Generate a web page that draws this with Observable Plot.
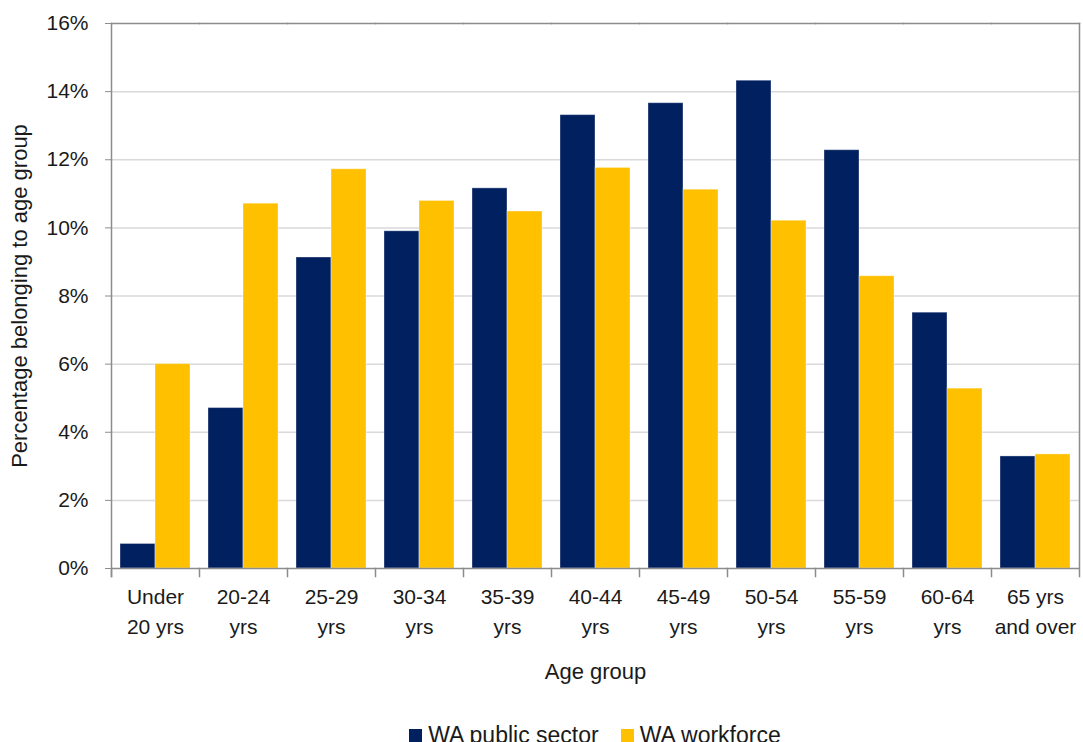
<!DOCTYPE html>
<html>
<head>
<meta charset="utf-8">
<script src="https://cdn.jsdelivr.net/npm/d3@7"></script>
<script src="https://cdn.jsdelivr.net/npm/@observablehq/plot@0.6"></script>
<style>
  html, body { margin: 0; padding: 0; background: #fff; }
  body { width: 1083px; height: 742px; overflow: hidden; font-family: "Liberation Sans", Arial, sans-serif; }
  #legend { display: flex; justify-content: center; align-items: center; gap: 22px;
            padding-left: 109px; padding-right: 2px; margin-top: 11px;
            font-size: 23px; color: #1a1a1a; line-height: 28px; }
  #legend .item { display: flex; align-items: center; gap: 6px; }
  #legend .sw { width: 13px; height: 13px; display: inline-block; }
</style>
</head>
<body>
<div id="chart"></div>
<div id="legend"></div>
<script>
const categories = ["Under 20 yrs", "20-24 yrs", "25-29 yrs", "30-34 yrs", "35-39 yrs", "40-44 yrs", "45-49 yrs", "50-54 yrs", "55-59 yrs", "60-64 yrs", "65 yrs and over"];
const tickLabels = ["Under\n20 yrs", "20-24\nyrs", "25-29\nyrs", "30-34\nyrs", "35-39\nyrs", "40-44\nyrs", "45-49\nyrs", "50-54\nyrs", "55-59\nyrs", "60-64\nyrs", "65 yrs\nand over"];
const seriesNames = ["WA public sector", "WA workforce"];
const publicSector = [0.72, 4.71, 9.13, 9.90, 11.16, 13.31, 13.66, 14.32, 12.28, 7.51, 3.29];
const workforce = [6.00, 10.71, 11.72, 10.79, 10.48, 11.76, 11.12, 10.21, 8.58, 5.28, 3.35];
const colors = ["#002060", "#FFC000"];
const yTicks = [0, 2, 4, 6, 8, 10, 12, 14, 16];

const data = [];
categories.forEach((c, i) => {
  data.push({age: c, series: seriesNames[0], value: publicSector[i]});
  data.push({age: c, series: seriesNames[1], value: workforce[i]});
});

const width = 1083, height = 710;
const marginTop = 23, marginBottom = 142, marginLeft = 109, marginRight = 2;
const plotH = height - marginTop - marginBottom;
const axisGrey = "#8c8c8c";
const textColor = "#1a1a1a";

const chart = Plot.plot({
  width, height, marginTop, marginBottom, marginLeft, marginRight,
  style: {fontFamily: "'Liberation Sans', Arial, sans-serif", fontSize: "21px", color: textColor, background: "#fff"},
  fx: {domain: categories, padding: 0},
  x: {domain: seriesNames, paddingInner: 0, paddingOuter: 0.25, axis: null},
  y: {domain: [0, 16]},
  color: {domain: seriesNames, range: colors},
  marks: [
    Plot.ruleY(yTicks.filter(d => d > 0 && d < 16), {stroke: "#d9d9d9", strokeWidth: 1.5}),
    Plot.barY(data, {fx: "age", x: "series", y: "value", fill: "series", stroke: "#fff", strokeOpacity: 0.35, strokeWidth: 1}),
    Plot.ruleY([0], {stroke: axisGrey, strokeWidth: 1.5}),
    Plot.frame({anchor: "top", stroke: axisGrey, strokeWidth: 1.5}),
    Plot.frame({anchor: "left", stroke: axisGrey, strokeWidth: 1.5, insetTop: plotH, insetBottom: -8}),
    Plot.frame({fx: categories[0], anchor: "left", stroke: axisGrey, strokeWidth: 1.5, insetBottom: -8}),
    Plot.frame({fx: categories[categories.length - 1], anchor: "right", stroke: axisGrey, strokeWidth: 1.5, insetBottom: -8}),
    Plot.axisY({ticks: yTicks, tickFormat: d => d + "%", tickSize: 6, tickPadding: 17, stroke: axisGrey, fill: textColor,
      fontSize: 21, label: null}),
    Plot.axisY({ticks: [], label: "Percentage belonging to age group", labelAnchor: "center", labelOffset: 100,
      labelArrow: "none", fontSize: 22, fill: textColor}),
    Plot.axisFx({anchor: "bottom", tickSize: 0, tickPadding: 15, lineHeight: 1.4, fill: textColor, fontSize: 21,
      tickFormat: d => tickLabels[categories.indexOf(d)], label: null}),
    Plot.axisFx({anchor: "bottom", ticks: [], label: "Age group", labelAnchor: "center", labelOffset: 110,
      labelArrow: "none", fontSize: 22, fill: textColor})
  ]
});
document.getElementById("chart").appendChild(chart);

const legend = document.getElementById("legend");
seriesNames.forEach((s, i) => {
  const item = document.createElement("span");
  item.className = "item";
  const sw = document.createElement("span");
  sw.className = "sw";
  sw.style.background = colors[i];
  item.appendChild(sw);
  item.appendChild(document.createTextNode(s));
  legend.appendChild(item);
});
</script>
</body>
</html>
